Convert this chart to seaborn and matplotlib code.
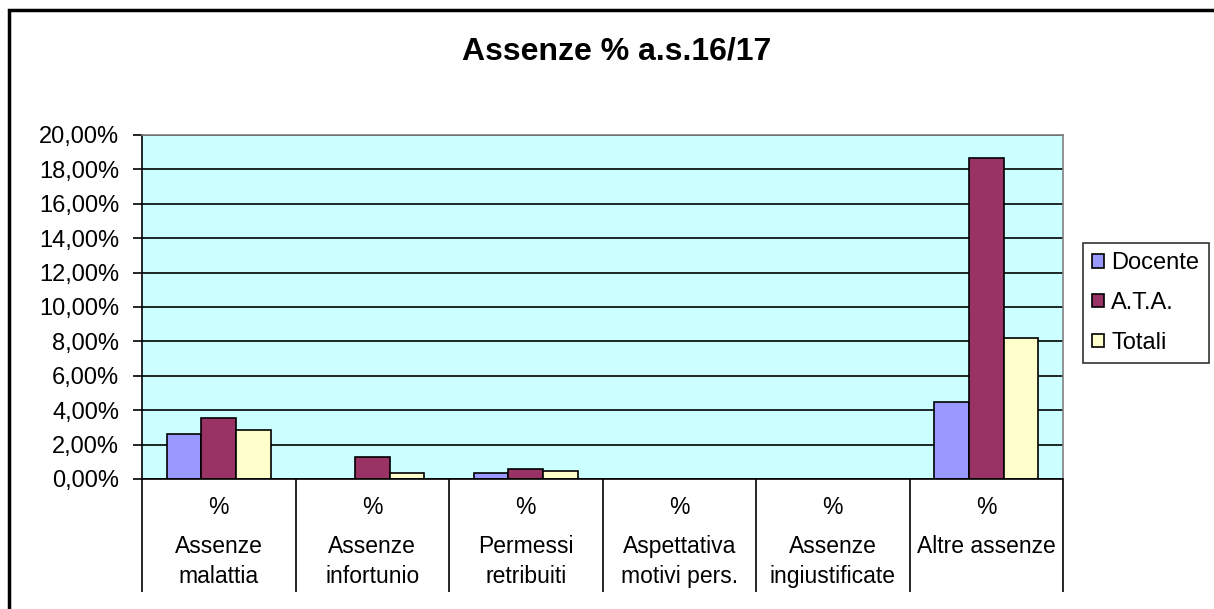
import pandas as pd
import matplotlib.pyplot as plt
import matplotlib.patches as mpatches
import seaborn as sns
from matplotlib.ticker import FuncFormatter, FixedLocator

categories = ["Assenze\nmalattia", "Assenze\ninfortunio", "Permessi\nretribuiti",
              "Aspettativa\nmotivi pers.", "Assenze\ningiustificate", "Altre assenze"]
series = ["Docente", "A.T.A.", "Totali"]
docente = [2.59, 0.0, 0.35, 0.0, 0.0, 4.50]
ata = [3.55, 1.29, 0.60, 0.0, 0.0, 18.68]
totali = [2.82, 0.37, 0.45, 0.0, 0.0, 8.21]
y_ticks = [0, 2, 4, 6, 8, 10, 12, 14, 16, 18, 20]

colors = ["#9999FF", "#993366", "#FFFFCC"]

rows = []
for name, vals in zip(series, [docente, ata, totali]):
    for cat, v in zip(categories, vals):
        rows.append({"categoria": cat, "serie": name, "valore": v})
df = pd.DataFrame(rows)

sns.set_theme(style="white")
plt.rcParams["font.family"] = ["Liberation Sans", "DejaVu Sans"]
plt.rcParams["text.color"] = "black"
plt.rcParams["xtick.color"] = "black"
plt.rcParams["ytick.color"] = "black"

W, H = 1214, 609
fig = plt.figure(figsize=(W / 100, H / 100), dpi=100)
ax = fig.add_axes([142 / W, 1 - 479 / H, (1063 - 142) / W, (479 - 135) / H])

sns.barplot(data=df, x="categoria", y="valore", hue="serie", order=categories,
            hue_order=series, palette=colors, width=0.68, gap=0,
            edgecolor="black", linewidth=1.2, saturation=1, legend=False, ax=ax)

ax.set_facecolor("#CCFFFF")
ax.set_ylim(0, 20)
ax.set_xlim(-0.5, len(categories) - 0.5)
ax.yaxis.set_major_locator(FixedLocator(y_ticks))
ax.yaxis.set_major_formatter(FuncFormatter(lambda v, p: f"{v:.2f}".replace(".", ",") + "%"))
ax.grid(axis="y", color="black", linewidth=1.2)
ax.set_axisbelow(True)
ax.tick_params(axis="y", direction="out", length=6.5, width=1.2, color="black",
               labelsize=17, pad=10, left=True, labelcolor="black")

# category boundaries as long ticks, labels drawn as text below
ax.set_xticks([i - 0.5 for i in range(len(categories) + 1)])
ax.set_xticklabels([])
ax.tick_params(axis="x", direction="out", length=81, width=1.2, color="black", bottom=True)
ax.set_xlabel("")
ax.set_ylabel("")

for s in ["left", "bottom"]:
    ax.spines[s].set_color("black")
    ax.spines[s].set_linewidth(1.2)
for s in ["top", "right"]:
    ax.spines[s].set_color("#808080")
    ax.spines[s].set_linewidth(1.2)

for i, cat in enumerate(categories):
    xf = (142 + (i + 0.5) * (1063 - 142) / len(categories)) / W
    fig.text(xf, 1 - 507 / H, "%", ha="center", va="center", fontsize=16.5)
    fig.text(xf, 1 - 535 / H, cat, ha="center", va="top", fontsize=16.5, linespacing=1.4)

fig.text(617 / W, 1 - 52 / H, "Assenze % a.s.16/17", ha="center", va="center",
         fontsize=23, fontweight="bold")

handles = [mpatches.Patch(facecolor=c, edgecolor="black", linewidth=1.2, label=s)
           for c, s in zip(colors, series)]
leg = fig.legend(handles=handles, loc="center left", bbox_to_anchor=(1083 / W, 1 - 303 / H),
                 fontsize=17, frameon=True, fancybox=False, edgecolor="black",
                 handlelength=0.5, handleheight=0.5, handletextpad=0.3,
                 labelspacing=0.75, borderpad=0.4, borderaxespad=0)
leg.get_frame().set_linewidth(1.2)

# outer chart frame (top and left edges visible)
fig.patches.append(mpatches.Rectangle((9 / W, -0.1), 1.2, 1 - 9.5 / H + 0.1,
                                      transform=fig.transFigure, fill=False,
                                      edgecolor="black", linewidth=2.5))

fig.savefig("out.png", dpi=100)
